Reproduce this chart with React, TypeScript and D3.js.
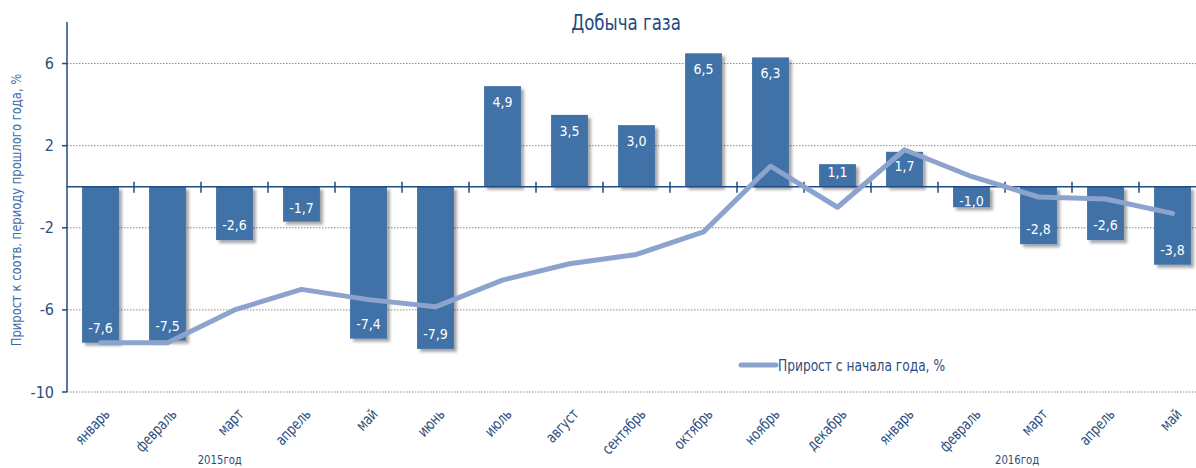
import React from "react";
import * as d3 from "d3";

const categories = [
  "январь", "февраль", "март", "апрель", "май", "июнь", "июль", "август",
  "сентябрь", "октябрь", "ноябрь", "декабрь", "январь", "февраль", "март", "апрель", "май",
];
const barValues = [-7.6, -7.5, -2.6, -1.7, -7.4, -7.9, 4.9, 3.5, 3.0, 6.5, 6.3, 1.1, 1.7, -1.0, -2.8, -2.6, -3.8];
const lineValues = [-7.6, -7.6, -6.0, -5.0, -5.5, -5.85, -4.55, -3.75, -3.3, -2.2, 1.0, -1.0, 1.8, 0.5, -0.5, -0.6, -1.3];
const yTicks = [-10, -6, -2, 2, 6];
const yearLabels = [
  { label: "2015год", index: 1.78 },
  { label: "2016год", index: 13.68 },
];
const title = "Добыча газа";
const yTitle = "Прирост к соотв. периоду прошлого года, %";
const legendLabel = "Прирост с начала года, %";

const W = 1196;
const H = 468;
const FONT = "'DejaVu Sans Condensed', 'Roboto', sans-serif";
const BAR = "#3F71A7";
const LINE = "#8CA4CD";
const AXIS = "#1F4A85";
const TEXT = "#2B4E7E";

export default function App() {
  const x = d3
    .scaleBand<number>()
    .domain(d3.range(categories.length))
    .range([67, 67 + 67 * categories.length])
    .paddingInner(0.45)
    .paddingOuter(0.225);
  const band = d3.scaleBand<number>().domain(d3.range(categories.length)).range([67, 67 + 67 * categories.length]);
  const y = d3.scaleLinear().domain([-10, 8]).range([392, 22.5]);
  const cx = (i: number) => (band(i) as number) + band.bandwidth() / 2;
  const line = d3
    .line<number>()
    .x((_, i) => cx(i))
    .y((d) => y(d))
    .curve(d3.curveLinear);

  return (
    <svg width={W} height={H} style={{ position: "absolute", left: 0, top: 0, background: "#fff" }} fontFamily={FONT}>
      <defs>
        <filter id="shadow" x="-30%" y="-30%" width="160%" height="160%">
          <feDropShadow dx="3" dy="3" stdDeviation="1.8" floodColor="#000" floodOpacity="0.35" />
        </filter>
      </defs>
      <rect width={W} height={H} fill="#fff" />
      {/* title */}
      <text transform={`translate(626,30) scale(0.88,1)`} textAnchor="middle" fontSize={21} fill={AXIS}>
        {title}
      </text>
      {/* gridlines */}
      {yTicks.map((t) => (
        <line key={t} x1={67} x2={W} y1={y(t)} y2={y(t)} stroke="#8a8a8a" strokeWidth={1} strokeDasharray="1.5,1.5" />
      ))}
      {/* bars */}
      {barValues.map((v, i) => (
        <rect
          key={i}
          x={x(i)}
          width={x.bandwidth()}
          y={Math.min(y(v), y(0))}
          height={Math.abs(y(v) - y(0))}
          fill={BAR}
          filter="url(#shadow)"
        />
      ))}
      {/* bar labels */}
      {barValues.map((v, i) => {
        const h = Math.abs(y(v) - y(0));
        const c = v >= 0 ? y(v) + Math.min(16, h / 2 - 3) : y(v) - Math.min(15, h / 2 - 4);
        return (
          <text key={i} x={cx(i)} y={c} dy="0.35em" textAnchor="middle" fontSize={14} fill="#fff">
            {v.toFixed(1).replace(".", ",")}
          </text>
        );
      })}
      {/* x axis line */}
      <line x1={67} x2={W} y1={y(0)} y2={y(0)} stroke={AXIS} strokeWidth={1.5} />
      {d3.range(1, categories.length).map((i) => (
        <line key={i} x1={band(i)} x2={band(i)} y1={y(0) - 5} y2={y(0) + 6} stroke={AXIS} strokeWidth={1.5} />
      ))}
      {/* y axis */}
      <line x1={67} x2={67} y1={22} y2={392} stroke={AXIS} strokeWidth={1.5} />
      {yTicks.map((t) => (
        <g key={t}>
          <line x1={62} x2={67} y1={y(t)} y2={y(t)} stroke={AXIS} strokeWidth={1.5} />
          <text x={54} y={y(t)} dy="0.35em" textAnchor="end" fontSize={16} fill={TEXT}>
            {t}
          </text>
        </g>
      ))}
      {/* line series */}
      <path d={line(lineValues) || ""} fill="none" stroke={LINE} strokeWidth={5} strokeLinejoin="round" strokeLinecap="round" />
      {/* x labels */}
      {categories.map((c, i) => (
        <text
          key={i}
          transform={`translate(${cx(i) + 10},${415}) rotate(-47) scale(0.82,1)`}
          textAnchor="end"
          fontSize={15.5}
          fill={TEXT}
        >
          {c}
        </text>
      ))}
      {yearLabels.map((yl) => (
        <text key={yl.label} transform={`translate(${cx(0) + yl.index * 67},464) scale(0.9,1)`} textAnchor="middle" fontSize={12.5} fill={TEXT}>
          {yl.label}
        </text>
      ))}
      {/* y title */}
      <text transform={`translate(21,${210}) rotate(-90) scale(0.92,1)`} textAnchor="middle" fontSize={14} fill="#3D6CA5">
        {yTitle}
      </text>
      {/* legend */}
      <line x1={741} x2={776} y1={365} y2={365} stroke={LINE} strokeWidth={5} strokeLinecap="round" />
      <text transform="translate(778,365) scale(0.85,1)" dy="0.35em" fontSize={16} fill={TEXT}>
        {legendLabel}
      </text>
    </svg>
  );
}
